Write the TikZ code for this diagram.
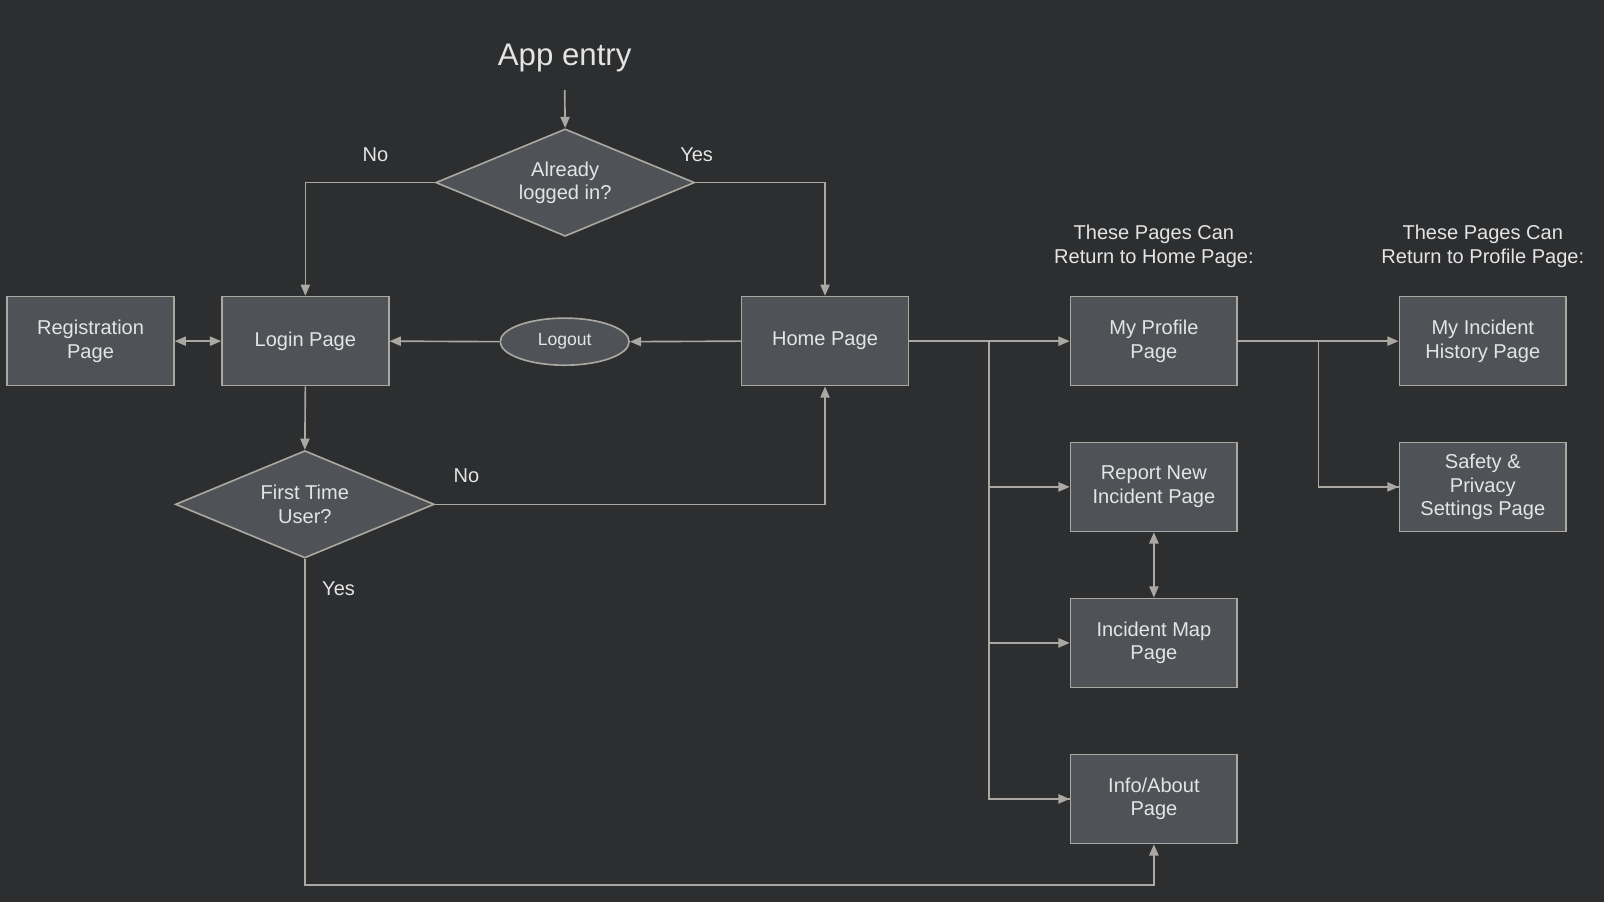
\documentclass[tikz,border=0pt]{standalone}
\usepackage{fontspec}
\setmainfont{Liberation Sans}
\usetikzlibrary{arrows.meta,shapes.geometric}
\definecolor{bgc}{HTML}{2D2E30}
\definecolor{boxc}{HTML}{4F5256}
\definecolor{linec}{HTML}{ABA8A2}
\definecolor{txtc}{HTML}{E4E4E4}
\begin{document}
\begin{tikzpicture}[x=1pt,y=-1pt,
  every node/.style={text=txtc,font=\fontsize{19.6}{23}\selectfont},
  pagebox/.style={draw=linec,fill=boxc,line width=1.6pt,minimum width=163pt,minimum height=87pt,align=center,inner sep=0pt},
  decision/.style={diamond,draw=linec,fill=boxc,line width=1.6pt,minimum width=253pt,minimum height=105pt,aspect=2.4,inner sep=0pt,align=center},
  conn/.style={draw=linec,line width=1.6pt,-{Triangle[length=11pt,width=9pt]}},
  biconn/.style={draw=linec,line width=1.6pt,{Triangle[length=11pt,width=9pt]}-{Triangle[length=11pt,width=9pt]}},
  plain/.style={draw=linec,line width=1.6pt},
  lbl/.style={align=center}]
\fill[bgc] (0,0) rectangle (1568,882);
\useasboundingbox (0,0) rectangle (1568,882);

\node[font=\fontsize{30.5}{36}\selectfont] (title) at (552,57) {App entry};
\coordinate (entry) at (552,88);

\node[decision] (already) at (552.5,178.5) {Already\\logged in?};
\node[decision] (first) at (298,493) {First Time\\User?};

\node[pagebox] (reg) at (88.5,333.5) {Registration\\Page};
\node[pagebox] (login) at (298.5,333.5) {Login Page};
\node[pagebox] (home) at (806.5,333.5) {Home Page};
\node[ellipse,draw=linec,fill=boxc,line width=1.6pt,minimum width=126pt,minimum height=46pt,inner sep=0pt,font=\fontsize{17.2}{20}\selectfont] (logout) at (552,334) {Logout};

\node[pagebox] (profile) at (1128,333.5) {My Profile\\Page};
\node[pagebox] (report) at (1128,476) {Report New\\Incident Page};
\node[pagebox] (map) at (1128,628.5) {Incident Map\\Page};
\node[pagebox] (info) at (1128,781) {Info/About\\Page};
\node[pagebox] (history) at (1449.5,333.5) {My Incident\\History Page};
\node[pagebox] (safety) at (1449.5,476) {Safety \&\\Privacy\\Settings Page};

\node[lbl] (hdr1) at (1128,241) {These Pages Can\\Return to Home Page:};
\node[lbl] (hdr2) at (1449.5,241) {These Pages Can\\Return to Profile Page:};

\node (no1) at (367,151) {No};
\node (yes1) at (681,151) {Yes};
\node (no2) at (456,465) {No};
\node (yes2) at (331,575) {Yes};

\coordinate (trunkA) at (967,333.5);
\coordinate (trunkB) at (1289,333.5);

\draw[conn] (entry) -- (already.north);
\draw[conn] (already.west) -| (login.north);
\draw[conn] (already.east) -| (home.north);
\draw[conn] (home.west) -- (logout.east);
\draw[conn] (logout.west) -- (login.east);
\draw[biconn] (reg.east) -- (login.west);
\draw[conn] (login.south) -- (first.north);
\draw[conn] (first.east) -| (home.south);
\draw[conn] (first.south) |- (1128,865) -- (info.south);

\draw[conn] (home.east) -- (profile.west);
\draw[plain] (trunkA) |- (info.west);
\draw[conn] (trunkA |- report.west) -- (report.west);
\draw[conn] (trunkA |- map.west) -- (map.west);
\draw[conn] (trunkA |- info.west) -- (info.west);
\draw[biconn] (report.south) -- (map.north);

\draw[conn] (profile.east) -- (history.west);
\draw[plain] (trunkB) |- (safety.west);
\draw[conn] (trunkB |- safety.west) -- (safety.west);
\end{tikzpicture}
\end{document}
